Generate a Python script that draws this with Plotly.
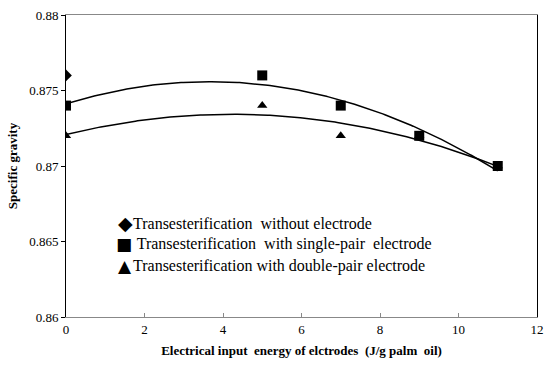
import numpy as np
import plotly.graph_objects as go

without_x = [0]
without_y = [0.876]
single_x = [0, 5, 7, 9, 11]
single_y = [0.874, 0.876, 0.874, 0.872, 0.870]
double_x = [0, 5, 7, 9, 11]
double_y = [0.872, 0.874, 0.872, 0.872, 0.870]

series_names = ["Transesterification  without electrode",
                " Transesterification  with single-pair  electrode",
                "Transesterification with double-pair electrode"]
legend_glyphs = ["◆", "■", "▲"]

xticks = [0, 2, 4, 6, 8, 10, 12]
yticks = [0.86, 0.865, 0.87, 0.875, 0.88]

font = "Times New Roman, Liberation Serif, serif"
fig = go.Figure()

xs = np.linspace(0, 11, 200)
for xv, yv in [(single_x, single_y), (double_x, double_y)]:
    c = np.polyfit(xv, yv, 2)
    fig.add_trace(go.Scatter(x=xs, y=np.polyval(c, xs), mode="lines",
                             line=dict(color="black", width=1.5), showlegend=False, hoverinfo="skip"))

fig.add_trace(go.Scatter(x=without_x, y=without_y, mode="markers", name=series_names[0], showlegend=False,
                         marker=dict(symbol="diamond", size=9, color="black")))
fig.add_trace(go.Scatter(x=single_x, y=single_y, mode="markers", name=series_names[1], showlegend=False,
                         marker=dict(symbol="square", size=10, color="black")))
fig.add_trace(go.Scatter(x=double_x, y=double_y, mode="markers", name=series_names[2], showlegend=False,
                         marker=dict(symbol="triangle-up", size=9, color="black")))

# legend drawn as text (plot area spans 66..537 px horizontally, 15..317 px vertically)
L, T, R, B = 66, 15, 13, 51
W, H = 550.0 - L - R, 368.0 - T - B
rows_py = [223.5, 244.5, 265.5]
glyph_px = [125, 124, 125]
glyph_size = [19, 17, 17]
for name, g, py, gx, gs in zip(series_names, legend_glyphs, rows_py, glyph_px, glyph_size):
    yp = (368 - B - py) / H
    fig.add_annotation(xref="paper", yref="paper", x=(gx - L) / W, y=yp, text=g, showarrow=False,
                       xanchor="center", yanchor="middle", font=dict(family="DejaVu Sans", size=gs, color="black"))
    fig.add_annotation(xref="paper", yref="paper", x=(131 - L) / W, y=yp, text=name, showarrow=False,
                       xanchor="left", yanchor="middle", font=dict(family=font, size=16, color="black"))

fig.update_layout(
    width=550, height=368,
    margin=dict(l=L, r=R, t=T, b=B),
    paper_bgcolor="white", plot_bgcolor="white",
    font=dict(family=font, color="black", size=13),
    showlegend=False,
    xaxis=dict(range=[0, 12], tickvals=xticks, ticktext=[str(t) for t in xticks], automargin=False,
               showgrid=False, zeroline=False, showline=True, linecolor="#888", linewidth=1,
               mirror=True, ticks="inside", ticklen=4, tickcolor="#888",
               tickfont=dict(family=font, size=13),
               title=dict(text="<b>Electrical input  energy of elctrodes  (J/g palm  oil)</b>",
                          font=dict(family=font, size=13), standoff=10)),
    yaxis=dict(range=[0.86, 0.88], tickvals=yticks, ticktext=["0.86", "0.865", "0.87", "0.875", "0.88"],
               automargin=False,
               showgrid=False, zeroline=False, showline=True, linecolor="black", linewidth=1,
               mirror=True, ticks="outside", ticklen=4, tickcolor="black",
               tickfont=dict(family=font, size=13),
               title=dict(text="<b>Specific gravity</b>", font=dict(family=font, size=13), standoff=8)),
)
fig.write_html("out.html", config={"displayModeBar": False},
               post_script="document.body.style.margin='0';")
